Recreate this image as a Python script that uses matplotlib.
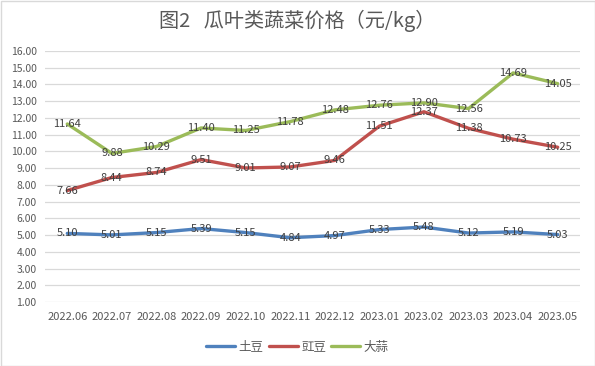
import matplotlib
matplotlib.use("Agg")
import matplotlib.pyplot as plt
from matplotlib.patches import Rectangle

plt.rcParams['font.family'] = ['Noto Sans CJK SC', 'DejaVu Sans']

months = ["2022.06", "2022.07", "2022.08", "2022.09", "2022.10", "2022.11",
          "2022.12", "2023.01", "2023.02", "2023.03", "2023.04", "2023.05"]
potato = [5.10, 5.01, 5.15, 5.39, 5.15, 4.84, 4.97, 5.33, 5.48, 5.12, 5.19, 5.03]
cowpea = [7.66, 8.44, 8.74, 9.51, 9.01, 9.07, 9.46, 11.51, 12.37, 11.38, 10.73, 10.25]
garlic = [11.64, 9.88, 10.29, 11.40, 11.25, 11.78, 12.48, 12.76, 12.90, 12.56, 14.69, 14.05]
series_names = ["土豆", "豇豆", "大蒜"]
colors = ["#4F81BD", "#C0504D", "#9BBB59"]
yticks = [1, 2, 3, 4, 5, 6, 7, 8, 9, 10, 11, 12, 13, 14, 15, 16]

fig = plt.figure(figsize=(5.95, 3.66), dpi=100)
ax = fig.add_axes([45/595, 1 - 302/366, (580-45)/595, (302-51)/366])

x = list(range(len(months)))
txtc = "#404040"
for vals, name, c in zip([potato, cowpea, garlic], series_names, colors):
    ax.plot(x, vals, color=c, lw=2.4, label=name, solid_capstyle='round', zorder=3)
    for xi, v in zip(x, vals):
        ax.text(xi, v, f"{v:.2f}", ha='center', va='center', fontsize=8,
                color=txtc, zorder=4)

ax.set_xlim(-0.5, len(months) - 0.5)
ax.set_ylim(1, 16)
ax.set_yticks(yticks)
ax.set_yticklabels([f"{t:.2f}" for t in yticks], fontsize=7.5, color="#595959")
ax.set_xticks(x)
ax.set_xticklabels(months, fontsize=8, color="#595959")
ax.tick_params(length=0, pad=7)
ax.tick_params(axis='y', pad=6)
ax.grid(axis='y', color="#D9D9D9", lw=0.9)
ax.set_axisbelow(True)
for s in ax.spines.values():
    s.set_visible(False)

fig.text(0.5, 1 - 21/366, "图2   瓜叶类蔬菜价格（元/kg）", ha='center', va='center',
         fontsize=14.5, color="#595959")

leg = fig.legend(loc='center', bbox_to_anchor=(0.5, 1 - 347/366), ncol=3, frameon=False,
                 fontsize=9, handlelength=2.3, columnspacing=0.4, handletextpad=0.3)
for t in leg.get_texts():
    t.set_color("#595959")

fig.patches.append(Rectangle((0.5/595, 0.5/366), 1 - 1/595, 1 - 1/366, transform=fig.transFigure,
                             fill=False, edgecolor="#D9D9D9", lw=1))

fig.savefig("out.png", dpi=100)
